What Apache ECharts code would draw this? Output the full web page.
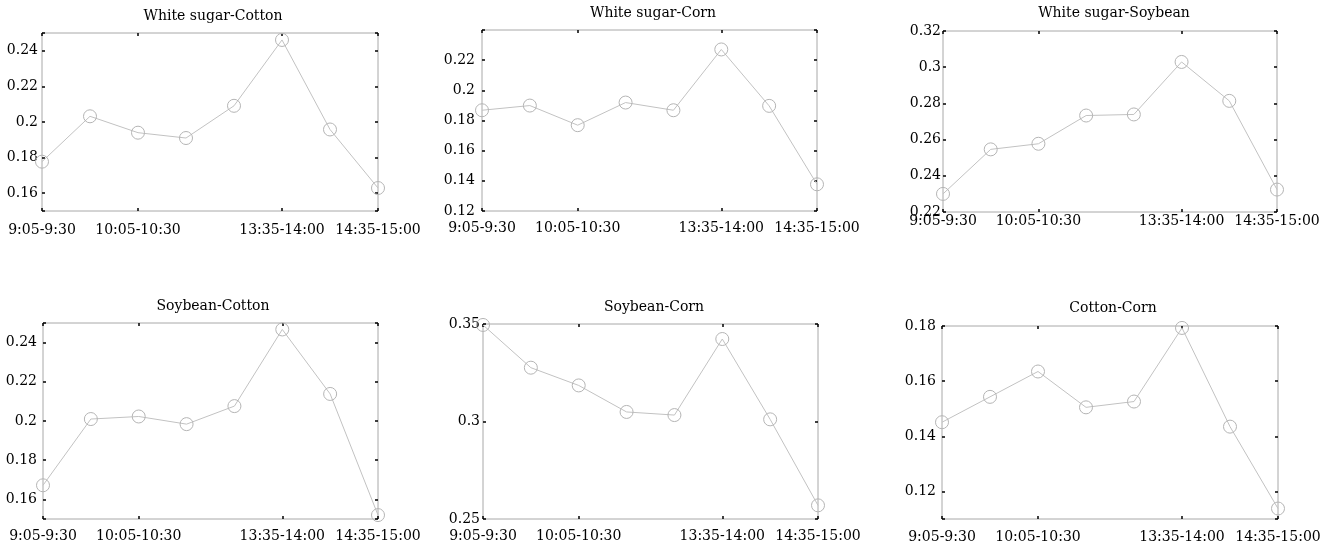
<!DOCTYPE html>
<html>
<head>
<meta charset="utf-8">
<script src="https://cdn.jsdelivr.net/npm/echarts@6/dist/echarts.min.js"></script>
<style>
  html, body { margin: 0; padding: 0; background: #fff; }
  #chart { width: 1325px; height: 545px; }
</style>
</head>
<body>
<div id="chart"></div>
<script>
// time slots on the x axis, only some carry a label
const timeLabels = ['9:05-9:30', '', '10:05-10:30', '', '', '13:35-14:00', '', '14:35-15:00'];

const panelTitles = ['White sugar-Cotton', 'White sugar-Corn', 'White sugar-Soybean',
                     'Soybean-Cotton', 'Soybean-Corn', 'Cotton-Corn'];

// series values per panel
const sugarCotton  = [0.1777, 0.2032, 0.1940, 0.1910, 0.2091, 0.2461, 0.1958, 0.1629];
const sugarCorn    = [0.1868, 0.1899, 0.1769, 0.1919, 0.1868, 0.2271, 0.1897, 0.1377];
const sugarSoybean = [0.2300, 0.2546, 0.2577, 0.2733, 0.2739, 0.3029, 0.2814, 0.2324];
const soybeanCotton = [0.1672, 0.2010, 0.2023, 0.1984, 0.2076, 0.2467, 0.2138, 0.1520];
const soybeanCorn  = [0.3495, 0.3276, 0.3185, 0.3049, 0.3033, 0.3423, 0.3011, 0.2570];
const cottonCorn   = [0.1451, 0.1543, 0.1635, 0.1505, 0.1526, 0.1793, 0.1435, 0.1138];

// y axis ranges and labelled ticks per panel
const yMins = [0.15, 0.12, 0.22, 0.15, 0.25, 0.11];
const yMaxs = [0.25, 0.24, 0.32, 0.25, 0.35, 0.18];
const yTickLabels = [
  [0.16, 0.18, 0.2, 0.22, 0.24],
  [0.12, 0.14, 0.16, 0.18, 0.2, 0.22],
  [0.22, 0.24, 0.26, 0.28, 0.3, 0.32],
  [0.16, 0.18, 0.2, 0.22, 0.24],
  [0.25, 0.3, 0.35],
  [0.12, 0.14, 0.16, 0.18]
];

const seriesData = [sugarCotton, sugarCorn, sugarSoybean, soybeanCotton, soybeanCorn, cottonCorn];

// layout of each panel: [left, top, width, height, xLabelMargin, yLabelMargin, titleX, titleY]
const panels = [
  [42, 33, 336, 178, 12, 4, 208, 4],
  [482, 30, 335, 181, 10, 7, 648, 1],
  [943, 31, 334, 181, 2, 2, 1109, 1],
  [43, 323, 335, 196, 10, 6, 208, 294],
  [483, 324, 335, 195, 10, 3, 649, 295],
  [942, 326, 336, 193, 11, 6, 1108, 296]
];

const font = 'DejaVu Serif';
const lineGray = '#c2c2c2';
const frameGray = '#a8a8a8';

const chart = echarts.init(document.getElementById('chart'));

const grid = [], xAxis = [], yAxis = [], series = [], title = [];

panels.forEach((p, i) => {
  const [left, top, width, height, xMargin, yMargin, tx, ty] = p;
  grid.push({ left: left, top: top, width: width, height: height, show: true,
              borderColor: frameGray, borderWidth: 1, backgroundColor: 'transparent' });

  title.push({
    text: panelTitles[i], left: tx, top: ty, textAlign: 'center',
    textStyle: { fontFamily: font, fontSize: 14, fontWeight: 'normal', color: '#000' }
  });

  const tickShown = (idx, val) => val !== '';
  const tickStyle = { show: true, inside: true, length: 3, lineStyle: { color: '#000', width: 1.5 } };

  // bottom and top x axes
  ['bottom', 'top'].forEach(pos => {
    xAxis.push({
      type: 'category', gridIndex: i, position: pos, data: timeLabels, boundaryGap: false,
      axisLine: { show: false },
      axisTick: Object.assign({ interval: tickShown }, tickStyle),
      axisLabel: pos === 'bottom'
        ? { show: true, interval: 0, margin: xMargin, fontFamily: font, fontSize: 14, color: '#000' }
        : { show: false },
      splitLine: { show: false }
    });
  });

  const ticks = [yMins[i]].concat(yTickLabels[i], [yMaxs[i]]);
  // left and right y axes
  ['left', 'right'].forEach(pos => {
    yAxis.push({
      type: 'value', gridIndex: i, position: pos, min: yMins[i], max: yMaxs[i],
      axisLine: { show: false },
      axisTick: Object.assign({ customValues: ticks }, tickStyle),
      axisLabel: pos === 'left'
        ? { show: true, customValues: yTickLabels[i], margin: yMargin, fontFamily: font, fontSize: 14, color: '#000' }
        : { show: false },
      splitLine: { show: false }
    });
  });

  series.push({
    type: 'line', name: panelTitles[i],
    xAxisIndex: i * 2, yAxisIndex: i * 2,
    data: seriesData[i],
    symbol: 'circle', symbolSize: 13, clip: false,
    lineStyle: { color: lineGray, width: 1 },
    itemStyle: { color: 'rgba(0,0,0,0)', borderColor: '#b4b4b4', borderWidth: 1 },
    emphasis: { disabled: true },
    animation: false
  });
});

chart.setOption({
  animation: false,
  title: title,
  grid: grid,
  xAxis: xAxis,
  yAxis: yAxis,
  series: series
});
</script>
</body>
</html>
